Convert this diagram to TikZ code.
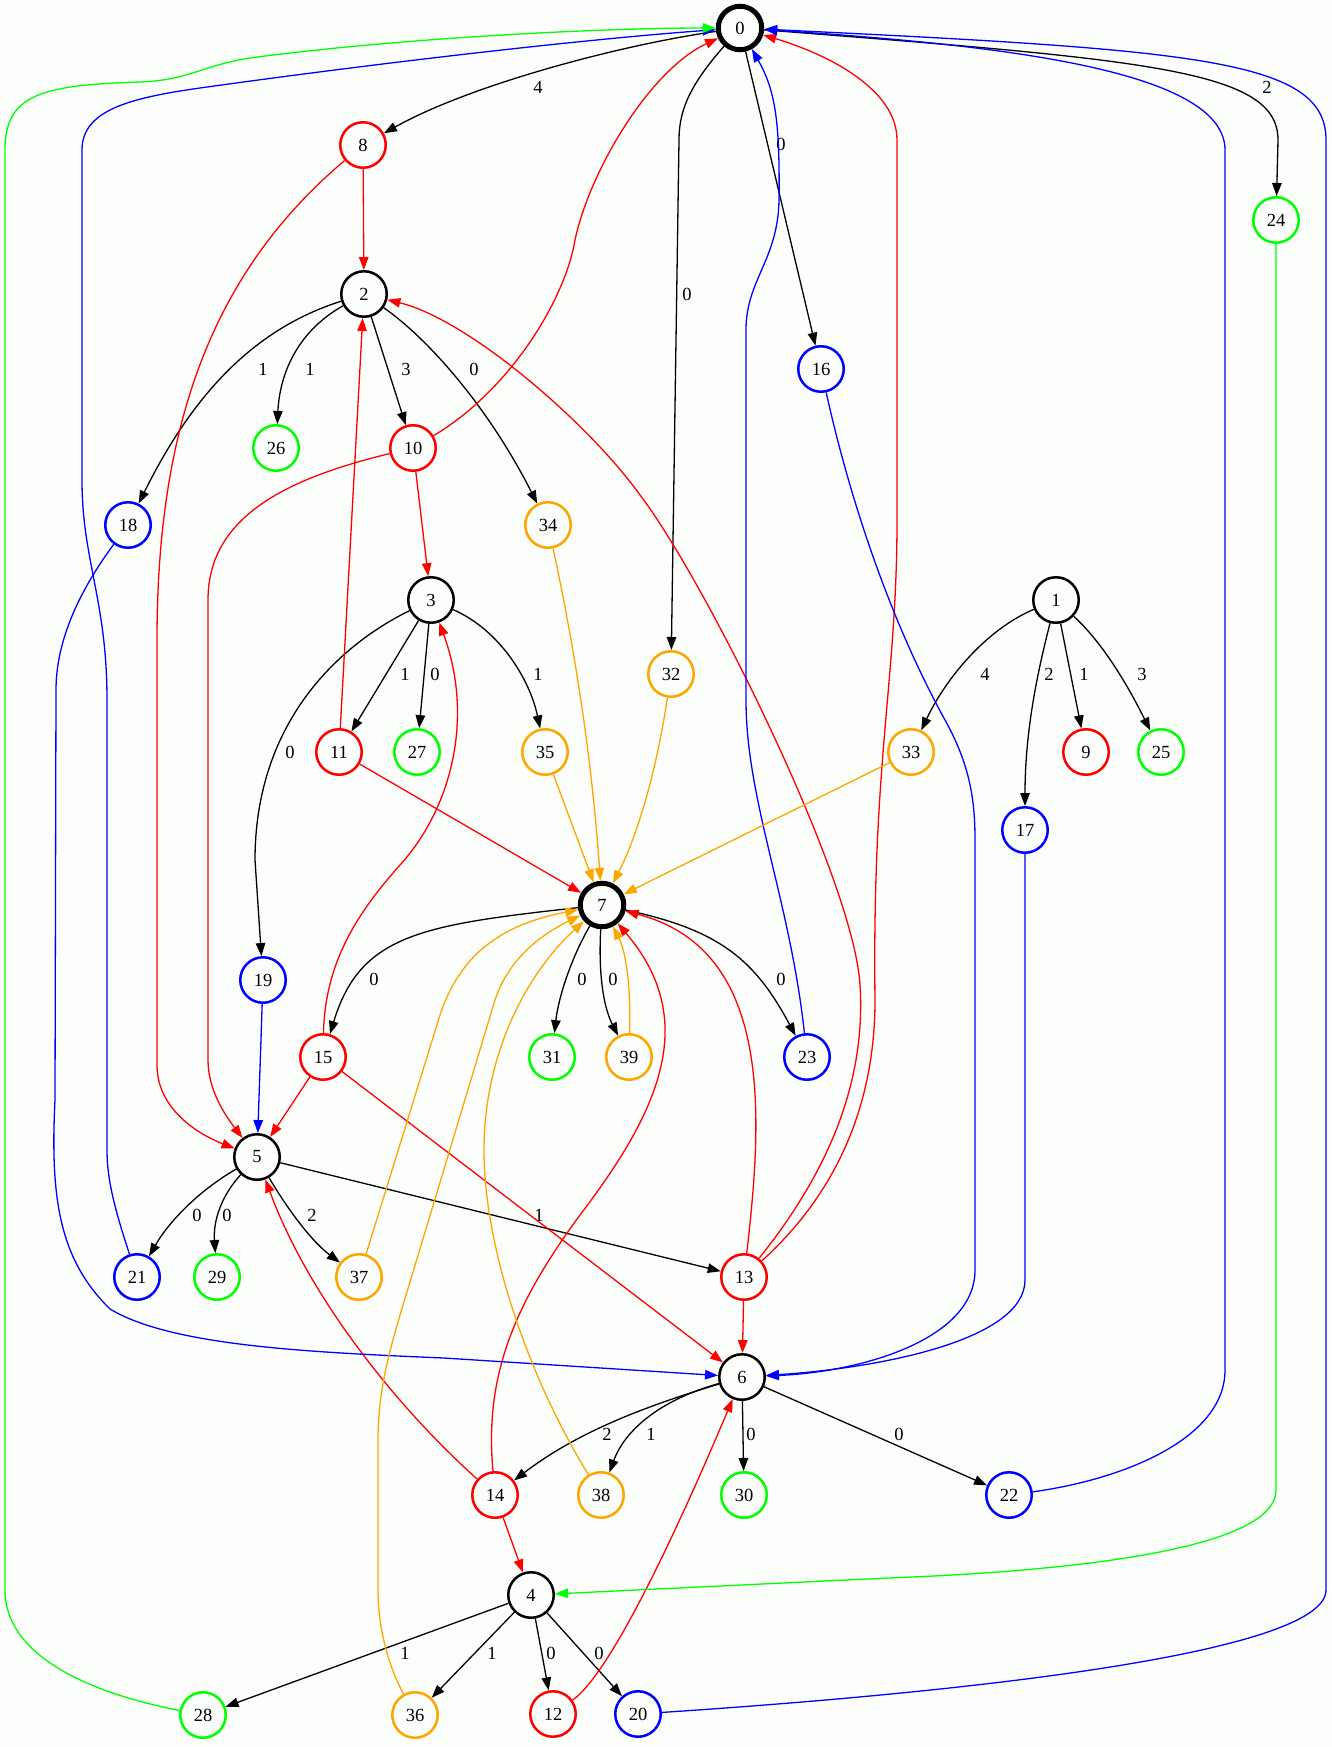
\documentclass[tikz,border=0pt]{standalone}
\usepackage{fontspec}
\setmainfont{Liberation Serif}
\usetikzlibrary{arrows.meta}
\definecolor{gvred}{RGB}{255,0,0}
\definecolor{gvgreen}{RGB}{0,255,0}
\definecolor{gvblue}{RGB}{0,0,255}
\definecolor{gvorange}{RGB}{255,165,0}
\definecolor{paper}{RGB}{252,254,252}
\newcommand\gvfont{\fontsize{18.5}{20}\selectfont}
\begin{document}
\begin{tikzpicture}[x=1pt,y=-1pt,
  vtx/.style={circle, minimum size=45.5pt, inner sep=0pt, line width=2.5pt, draw=#1, font=\gvfont},
  hub/.style={circle, minimum size=43.5pt, inner sep=0pt, line width=5pt, draw=black, font=\gvfont},
  edg/.style={-{Triangle[length=13pt,width=9.5pt]}, line width=1.3pt},
  lbl/.style={font=\gvfont, inner sep=0pt}]
\useasboundingbox (0,0) rectangle (1332,1747);
\fill[paper] (0,0) rectangle (1332,1747);

% vertices
\node[hub] (n0) at (740,28) {0};
\node[hub] (n7) at (602,905) {7};
\node[vtx=black] (n1) at (1056,600) {1};
\node[vtx=black] (n2) at (364,294) {2};
\node[vtx=black] (n3) at (431,600) {3};
\node[vtx=black] (n4) at (531,1595) {4};
\node[vtx=black] (n5) at (257,1157) {5};
\node[vtx=black] (n6) at (742,1377) {6};
\node[vtx=gvred] (n8) at (363,145) {8};
\node[vtx=gvred] (n9) at (1086,752) {9};
\node[vtx=gvred] (n10) at (413,448) {10};
\node[vtx=gvred] (n11) at (339,752) {11};
\node[vtx=gvred] (n12) at (553,1714) {12};
\node[vtx=gvred] (n13) at (744,1277) {13};
\node[vtx=gvred] (n14) at (495,1495) {14};
\node[vtx=gvred] (n15) at (323,1057) {15};
\node[vtx=gvblue] (n16) at (821,369) {16};
\node[vtx=gvblue] (n17) at (1025,830) {17};
\node[vtx=gvblue] (n18) at (128,525) {18};
\node[vtx=gvblue] (n19) at (263,980) {19};
\node[vtx=gvblue] (n20) at (638,1714) {20};
\node[vtx=gvblue] (n21) at (137,1277) {21};
\node[vtx=gvblue] (n22) at (1009,1495) {22};
\node[vtx=gvblue] (n23) at (807,1057) {23};
\node[vtx=gvgreen] (n24) at (1276,220) {24};
\node[vtx=gvgreen] (n25) at (1161,752) {25};
\node[vtx=gvgreen] (n26) at (276,448) {26};
\node[vtx=gvgreen] (n27) at (417,752) {27};
\node[vtx=gvgreen] (n28) at (203,1715) {28};
\node[vtx=gvgreen] (n29) at (217,1277) {29};
\node[vtx=gvgreen] (n30) at (744,1495) {30};
\node[vtx=gvgreen] (n31) at (552,1057) {31};
\node[vtx=gvorange] (n32) at (671,674) {32};
\node[vtx=gvorange] (n33) at (911,752) {33};
\node[vtx=gvorange] (n34) at (548,525) {34};
\node[vtx=gvorange] (n35) at (545,752) {35};
\node[vtx=gvorange] (n36) at (415,1715) {36};
\node[vtx=gvorange] (n37) at (359,1277) {37};
\node[vtx=gvorange] (n38) at (601,1495) {38};
\node[vtx=gvorange] (n39) at (629,1057) {39};

% labelled black edges
\draw[edg] (n0) .. controls (620,45) and (470,85) .. (n8) node[lbl] at (538,87) {4};
\draw[edg] (n0) .. controls (690,85) and (679,110) .. (679,140) -- (n32) node[lbl] at (687,294) {0};
\draw[edg] (n0) -- (n16) node[lbl] at (781,144) {0};
\draw[edg] (n0) .. controls (1150,60) and (1278,70) .. (1278,140) -- (n24) node[lbl] at (1267,87) {2};
\draw[edg] (n2) .. controls (250,330) and (190,400) .. (n18) node[lbl] at (263,369) {1};
\draw[edg] (n2) .. controls (300,330) and (280,370) .. (n26) node[lbl] at (310,369) {1};
\draw[edg] (n2) -- (n10) node[lbl] at (406,369) {3};
\draw[edg] (n2) .. controls (430,340) and (490,410) .. (n34) node[lbl] at (474,369) {0};
\draw[edg] (n3) .. controls (330,650) and (255,730) .. (255,860) -- (n19) node[lbl] at (290,752) {0};
\draw[edg] (n3) -- (n11) node[lbl] at (405,674) {1};
\draw[edg] (n3) -- (n27) node[lbl] at (435,674) {0};
\draw[edg] (n3) .. controls (500,630) and (530,680) .. (n35) node[lbl] at (538,674) {1};
\draw[edg] (n1) .. controls (985,630) and (945,680) .. (n33) node[lbl] at (985,674) {4};
\draw[edg] (n1) .. controls (1038,670) and (1025,730) .. (n17) node[lbl] at (1049,674) {2};
\draw[edg] (n1) -- (n9) node[lbl] at (1084,674) {1};
\draw[edg] (n1) .. controls (1105,645) and (1130,690) .. (n25) node[lbl] at (1142,674) {3};
\draw[edg] (n7) .. controls (420,925) and (360,935) .. (n15) node[lbl] at (374,979) {0};
\draw[edg] (n7) .. controls (570,960) and (558,1000) .. (n31) node[lbl] at (582,979) {0};
\draw[edg] (n7) .. controls (598,980) and (605,1010) .. (n39) node[lbl] at (613,979) {0};
\draw[edg] (n7) .. controls (720,930) and (755,960) .. (n23) node[lbl] at (781,979) {0};
\draw[edg] (n5) .. controls (200,1190) and (170,1220) .. (n21) node[lbl] at (197,1215) {0};
\draw[edg] (n5) .. controls (222,1195) and (213,1220) .. (n29) node[lbl] at (227,1215) {0};
\draw[edg] (n5) .. controls (285,1205) and (310,1240) .. (n37) node[lbl] at (312,1215) {2};
\draw[edg] (n5) -- (n13) node[lbl] at (539,1215) {1};
\draw[edg] (n6) .. controls (650,1405) and (580,1430) .. (n14) node[lbl] at (607,1434) {2};
\draw[edg] (n6) .. controls (660,1400) and (625,1430) .. (n38) node[lbl] at (651,1434) {1};
\draw[edg] (n6) -- (n30) node[lbl] at (751,1434) {0};
\draw[edg] (n6) -- (n22) node[lbl] at (899,1434) {0};
\draw[edg] (n4) -- (n28) node[lbl] at (405,1653) {1};
\draw[edg] (n4) -- (n36) node[lbl] at (492,1653) {1};
\draw[edg] (n4) -- (n12) node[lbl] at (551,1653) {0};
\draw[edg] (n4) -- (n20) node[lbl] at (599,1653) {0};

% red edges
\draw[edg, gvred] (n8) -- (n2);
\draw[edg, gvred] (n8) .. controls (215,270) and (157,420) .. (157,640) -- (157,1065) .. controls (157,1110) and (200,1135) .. (n5);
\draw[edg, gvred] (n10) .. controls (510,390) and (565,300) .. (575,240) .. controls (590,170) and (650,70) .. (n0);
\draw[edg, gvred] (n10) -- (n3);
\draw[edg, gvred] (n10) .. controls (280,480) and (208,520) .. (208,600) -- (208,1060) .. controls (208,1090) and (225,1115) .. (n5);
\draw[edg, gvred] (n11) -- (n2);
\draw[edg, gvred] (n11) -- (n7);
\draw[edg, gvred] (n15) .. controls (325,960) and (360,910) .. (400,865) .. controls (450,810) and (475,720) .. (n3);
\draw[edg, gvred] (n15) -- (n5);
\draw[edg, gvred] (n15) -- (n6);
\draw[edg, gvred] (n13) .. controls (762,1120) and (775,950) .. (n7);
\draw[edg, gvred] (n13) .. controls (830,1170) and (866,1080) .. (860,985) .. controls (854,880) and (705,580) .. (640,495) .. controls (590,425) and (470,320) .. (n2);
\draw[edg, gvred] (n13) .. controls (840,1190) and (875,1100) .. (875,1000) .. controls (872,760) and (897,680) .. (897,520) -- (897,140) .. controls (897,90) and (830,55) .. (n0);
\draw[edg, gvred] (n13) -- (n6);
\draw[edg, gvred] (n14) .. controls (485,1380) and (510,1310) .. (580,1215) .. controls (660,1110) and (700,1020) .. (n7);
\draw[edg, gvred] (n14) .. controls (400,1410) and (310,1300) .. (n5);
\draw[edg, gvred] (n14) -- (n4);
\draw[edg, gvred] (n12) .. controls (615,1670) and (690,1500) .. (n6);

% blue edges
\draw[edg, gvblue] (n16) .. controls (850,500) and (890,620) .. (945,720) .. controls (970,765) and (975,800) .. (975,840) -- (975,1270) .. controls (975,1340) and (860,1372) .. (n6);
\draw[edg, gvblue] (n17) -- (1025,1280) .. controls (1025,1340) and (880,1368) .. (n6);
\draw[edg, gvblue] (n18) .. controls (80,590) and (56,640) .. (56,690) -- (55,1100) .. controls (50,1200) and (60,1260) .. (110,1309) .. controls (170,1345) and (300,1352) .. (444,1358) -- (n6);
\draw[edg, gvblue] (n21) .. controls (115,1210) and (107,1180) .. (107,1150) -- (107,700) .. controls (107,600) and (82,560) .. (82,480) -- (82,150) .. controls (82,110) and (130,98) .. (200,88) .. controls (400,60) and (600,38) .. (n0);
\draw[edg, gvblue] (n23) .. controls (790,900) and (746,800) .. (746,700) -- (746,330) .. controls (746,280) and (778,260) .. (779,200) .. controls (780,120) and (775,90) .. (n0);
\draw[edg, gvblue] (n19) -- (n5);
\draw[edg, gvblue] (n22) .. controls (1120,1480) and (1225,1440) .. (1225,1370) -- (1225,150) .. controls (1225,70) and (1000,45) .. (n0);
\draw[edg, gvblue] (n20) .. controls (1000,1690) and (1326,1650) .. (1326,1590) -- (1326,140) .. controls (1326,60) and (1200,50) .. (n0);

% green edges
\draw[edg, gvgreen] (n24) -- (1276,1490) .. controls (1276,1545) and (1100,1570) .. (888,1578) -- (n4);
\draw[edg, gvgreen] (n28) .. controls (100,1695) and (5,1660) .. (5,1590) -- (5,150) .. controls (5,95) and (40,85) .. (140,82) .. controls (190,80) and (200,66) .. (250,58) .. controls (400,38) and (600,28) .. (n0);

% orange edges
\draw[edg, gvorange] (n34) .. controls (575,650) and (592,760) .. (n7);
\draw[edg, gvorange] (n32) .. controls (655,780) and (635,840) .. (n7);
\draw[edg, gvorange] (n35) -- (n7);
\draw[edg, gvorange] (n33) -- (n7);
\draw[edg, gvorange] (n39) .. controls (631,980) and (625,950) .. (n7);
\draw[edg, gvorange] (n37) -- (440,1015) .. controls (460,955) and (500,925) .. (n7);
\draw[edg, gvorange] (n38) .. controls (530,1380) and (484,1250) .. (484,1150) .. controls (484,1050) and (530,970) .. (n7);
\draw[edg, gvorange] (n36) .. controls (385,1660) and (378,1620) .. (378,1590) -- (378,1440) .. controls (378,1390) and (390,1350) .. (400,1315) -- (495,1000) .. controls (508,960) and (540,935) .. (n7);
\end{tikzpicture}
\end{document}
